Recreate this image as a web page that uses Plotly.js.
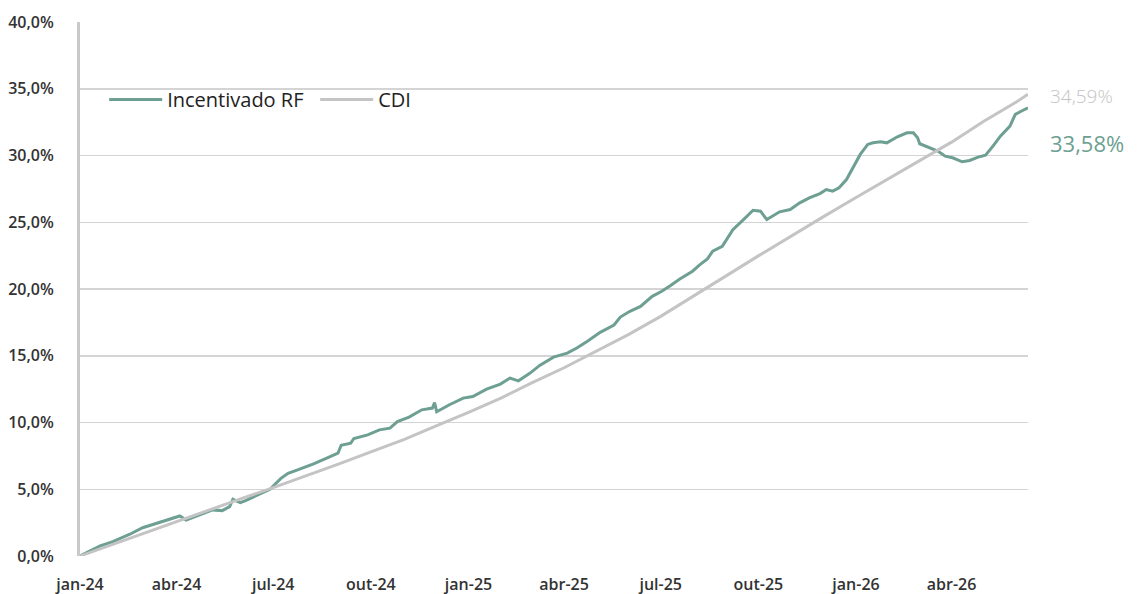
<!DOCTYPE html>
<html>
<head>
<meta charset="utf-8">
<script src="https://cdn.plot.ly/plotly-3.0.1.min.js"></script>
<style>
  html, body { margin: 0; padding: 0; background: #ffffff; }
  #chart { width: 1141px; height: 594px; }
</style>
</head>
<body>
<div id="chart"></div>
<script>
// ---- Data ----
const seriesNames = ['Incentivado RF', 'CDI'];

const fundDates = [
  '2024-01-01','2024-01-20','2024-02-01','2024-02-17','2024-02-29','2024-03-13','2024-03-25',
  '2024-04-04','2024-04-10','2024-04-22','2024-05-05','2024-05-14','2024-05-21','2024-05-24','2024-05-31',
  '2024-06-05','2024-06-17','2024-06-28','2024-07-08','2024-07-15','2024-07-24','2024-08-08','2024-08-21',
  '2024-08-31','2024-09-03','2024-09-12','2024-09-15','2024-09-28','2024-10-09','2024-10-19','2024-10-26',
  '2024-11-06','2024-11-18','2024-11-28','2024-11-30','2024-12-02','2024-12-14','2024-12-27',
  '2025-01-05','2025-01-18','2025-01-31','2025-02-09','2025-02-17','2025-02-28','2025-03-09','2025-03-22',
  '2025-04-04','2025-04-13','2025-04-23','2025-05-05','2025-05-18','2025-05-24','2025-06-02','2025-06-12',
  '2025-06-23','2025-07-02','2025-07-10','2025-07-19','2025-07-31','2025-08-07','2025-08-14','2025-08-19',
  '2025-08-28','2025-09-02','2025-09-07','2025-09-17','2025-09-26','2025-10-03','2025-10-09','2025-10-21',
  '2025-10-31','2025-11-09','2025-11-18','2025-11-28','2025-12-04','2025-12-10','2025-12-16','2025-12-23',
  '2025-12-28','2026-01-01','2026-01-05','2026-01-12','2026-01-17','2026-01-24','2026-01-30','2026-02-09',
  '2026-02-18','2026-02-24','2026-02-28','2026-03-02','2026-03-12','2026-03-19','2026-03-26','2026-04-02',
  '2026-04-11','2026-04-18','2026-04-26','2026-05-03','2026-05-10','2026-05-17','2026-05-26','2026-05-31',
  '2026-06-06','2026-06-12'
];
const fundValues = [
  0.00, 0.75, 1.07, 1.63, 2.12, 2.45, 2.75,
  3.00, 2.70, 3.07, 3.45, 3.40, 3.70, 4.25, 4.00,
  4.15, 4.60, 5.00, 5.80, 6.20, 6.45, 6.90, 7.35,
  7.70, 8.30, 8.45, 8.80, 9.07, 9.45, 9.58, 10.07,
  10.40, 10.95, 11.08, 11.50, 10.80, 11.33, 11.83,
  11.95, 12.50, 12.88, 13.33, 13.12, 13.70, 14.28, 14.90,
  15.20, 15.58, 16.08, 16.75, 17.30, 17.90, 18.33, 18.70,
  19.45, 19.83, 20.25, 20.75, 21.33, 21.83, 22.25, 22.83,
  23.20, 23.83, 24.45, 25.20, 25.90, 25.83, 25.20, 25.78,
  25.95, 26.45, 26.83, 27.15, 27.45, 27.33, 27.58, 28.20,
  28.90, 29.45, 30.08, 30.83, 30.95, 31.03, 30.95, 31.40,
  31.70, 31.70, 31.33, 30.88, 30.58, 30.33, 29.95, 29.83,
  29.53, 29.63, 29.88, 30.03, 30.70, 31.45, 32.20, 33.08,
  33.33, 33.58
];

const cdiDates = [
  '2024-01-01','2024-02-01','2024-03-01','2024-04-01','2024-05-01','2024-06-01','2024-07-01',
  '2024-08-01','2024-09-01','2024-10-01','2024-11-01','2024-12-01','2025-01-01','2025-02-01',
  '2025-03-01','2025-04-01','2025-05-01','2025-06-01','2025-07-01','2025-08-01','2025-09-01',
  '2025-10-01','2025-11-01','2025-12-01','2026-01-01','2026-02-01','2026-03-01','2026-04-01',
  '2026-05-01','2026-06-01','2026-06-12'
];
const cdiValues = [
  0.00, 0.88, 1.70, 2.57, 3.45, 4.30, 5.12,
  6.00, 6.90, 7.80, 8.72, 9.72, 10.75, 11.85,
  12.95, 14.10, 15.30, 16.60, 17.95, 19.50, 21.00,
  22.48, 23.98, 25.40, 26.85, 28.30, 29.55, 31.00,
  32.55, 34.00, 34.59
];

const tickDates = ['2024-01-01','2024-04-01','2024-07-01','2024-10-01','2025-01-01','2025-04-01',
                   '2025-07-01','2025-10-01','2026-01-01','2026-04-01'];
const tickLabels = ['jan-24','abr-24','jul-24','out-24','jan-25','abr-25','jul-25','out-25','jan-26','abr-26'];

// ---- Styles ----
const fundColor = '#6d9f92';
const cdiColor = '#c4c4c4';
const fontFamily = '"Open Sans", "Noto Sans", sans-serif';

function fmt(v) { return v.toFixed(2).replace('.', ',') + '%'; }

const traces = [
  {
    x: fundDates, y: fundValues, name: seriesNames[0], type: 'scatter', mode: 'lines',
    line: { color: fundColor, width: 3 }, hoverinfo: 'skip'
  },
  {
    x: cdiDates, y: cdiValues, name: seriesNames[1], type: 'scatter', mode: 'lines',
    line: { color: cdiColor, width: 3 }, hoverinfo: 'skip'
  }
];

const lastFund = fundValues[fundValues.length - 1];
const lastCdi = cdiValues[cdiValues.length - 1];

const layout = {
  width: 1141, height: 594,
  margin: { l: 80, r: 113, t: 22, b: 38 },
  paper_bgcolor: '#ffffff', plot_bgcolor: '#ffffff',
  separators: ',.',
  showlegend: true,
  legend: {
    orientation: 'h', x: 0.0255, y: 0.855, xanchor: 'left', yanchor: 'middle',
    font: { family: fontFamily, size: 20, color: '#222222', weight: 500 },
    bgcolor: 'rgba(0,0,0,0)', itemwidth: 53, traceorder: 'normal',
    entrywidth: 143, entrywidthmode: 'pixels'
  },
  xaxis: {
    type: 'date', range: ['2024-01-01', '2026-06-12'],
    tickmode: 'array', tickvals: tickDates, ticktext: tickLabels,
    showgrid: false, zeroline: false, showline: false, ticks: '',
    ticklabelstandoff: 17,
    tickfont: { family: fontFamily, size: 16, color: '#333333', weight: 600 }
  },
  yaxis: {
    range: [0, 40], dtick: 5, tick0: 0, tickformat: '.1f', ticksuffix: '%',
    showgrid: true, gridcolor: '#d4d4d4', gridwidth: 1.5,
    zeroline: false, showline: true, linecolor: '#c9c9c9', linewidth: 3,
    ticks: '', ticklabelstandoff: 20,
    tickfont: { family: fontFamily, size: 16, color: '#333333', weight: 600 }
  },
  annotations: [
    {
      x: cdiDates[cdiDates.length - 1], y: lastCdi, xref: 'x', yref: 'y',
      text: fmt(lastCdi), showarrow: false, xanchor: 'left', yanchor: 'middle',
      xshift: 20, yshift: -2,
      font: { family: fontFamily, size: 19, color: '#c4c4c4', weight: 300 }
    },
    {
      x: fundDates[fundDates.length - 1], y: lastFund, xref: 'x', yref: 'y',
      text: fmt(lastFund), showarrow: false, xanchor: 'left', yanchor: 'middle',
      xshift: 20, yshift: -35,
      font: { family: fontFamily, size: 22, color: fundColor, weight: 400 }
    }
  ]
};

Plotly.newPlot('chart', traces, layout, { displayModeBar: false, staticPlot: true });
</script>
</body>
</html>
